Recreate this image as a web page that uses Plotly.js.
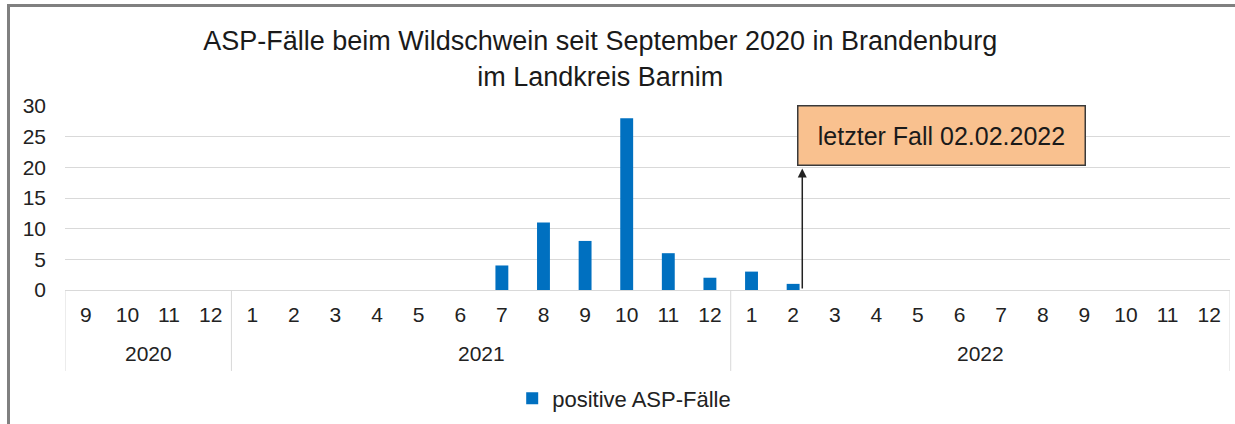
<!DOCTYPE html>
<html>
<head>
<meta charset="utf-8">
<script src="https://cdn.plot.ly/plotly-3.0.1.min.js"></script>
<style>
  html, body { margin: 0; padding: 0; background: #fff; }
  #wrap { position: relative; width: 1235px; height: 424px; overflow: hidden; }
  #chart { width: 1235px; height: 424px; }
  #frame { position: absolute; left: 7px; top: 4px; width: 1300px; height: 500px;
           border-top: 3px solid #808080; border-left: 3px solid #808080; pointer-events: none; }
</style>
</head>
<body>
<div id="wrap">
  <div id="chart"></div>
  <div id="frame"></div>
</div>
<script>
// ---- data ----
const years = ['2020','2020','2020','2020',
  '2021','2021','2021','2021','2021','2021','2021','2021','2021','2021','2021','2021',
  '2022','2022','2022','2022','2022','2022','2022','2022','2022','2022','2022','2022'];
const months = ['9','10','11','12',
  '1','2','3','4','5','6','7','8','9','10','11','12',
  '1','2','3','4','5','6','7','8','9','10','11','12'];
const cases = [0,0,0,0,
  0,0,0,0,0,0,4,11,8,28,6,2,
  3,1,0,0,0,0,0,0,0,0,0,0];
const seriesName = 'positive ASP-Fälle';
const titleText = 'ASP-Fälle beim Wildschwein seit September 2020 in Brandenburg<br>im Landkreis Barnim';
const noteText = 'letzter Fall 02.02.2022';
const lastCase = {year: '2022', month: '2'};

const FONT = '"Liberation Sans", Arial, sans-serif';
const n = years.length;

// unique category keys (year-month), shown with month labels
const keys = years.map((y, i) => y + '-' + months[i]);

// index of the last case category
let lastIdx = 0;
for (let i = 0; i < n; i++) {
  if (years[i] === lastCase.year && months[i] === lastCase.month) lastIdx = i;
}

// year groups -> year labels + dividers
const groups = [];
years.forEach((y, i) => {
  const g = groups[groups.length - 1];
  if (g && g.year === y) g.last = i;
  else groups.push({year: y, first: i, last: i});
});

const DIV_BOTTOM = -0.44;
const YEAR_Y = -0.345;

const shapes = [];
const boundaries = [groups[0].first - 0.5].concat(groups.map(g => g.last + 0.5));
boundaries.forEach(b => {
  shapes.push({
    type: 'line', xref: 'x', yref: 'paper',
    x0: b, x1: b, y0: 0, y1: DIV_BOTTOM,
    line: {color: '#D9D9D9', width: 1}
  });
});

const annotations = groups.map(g => ({
  xref: 'x', yref: 'paper',
  x: (g.first + g.last) / 2, y: YEAR_Y,
  xanchor: 'center', yanchor: 'middle',
  text: g.year, showarrow: false,
  font: {family: FONT, size: 21, color: '#222222'}
}));

annotations.push({
  xref: 'paper', yref: 'paper',
  x: 0.752, y: 0.837,
  xanchor: 'center', yanchor: 'middle',
  text: noteText,
  showarrow: false,
  font: {family: FONT, size: 25, color: '#1a1a1a'},
  bgcolor: '#F9C18F',
  bordercolor: '#3a3a3a', borderwidth: 1.5, borderpad: 0,
  width: 286, height: 58, align: 'center', valign: 'middle'
});
annotations.push({
  xref: 'x', yref: 'y',
  x: lastIdx + 0.22, y: 19.8,
  text: ' ',
  font: {size: 1},
  borderpad: 0,
  showarrow: true,
  arrowhead: 2, arrowsize: 1.2, arrowwidth: 1.5, arrowcolor: '#222222',
  ax: 0, ay: 121,
  standoff: 0, startstandoff: 0
});

const trace = {
  type: 'bar',
  x: keys,
  y: cases,
  name: seriesName,
  width: 0.31,
  marker: {color: '#0070C0'},
  showlegend: true,
  hoverinfo: 'y'
};

const layout = {
  width: 1235, height: 424,
  margin: {l: 65, r: 5, t: 106, b: 134, pad: 0},
  paper_bgcolor: '#ffffff',
  plot_bgcolor: '#ffffff',
  font: {family: FONT, color: '#222222', size: 20},
  title: {
    text: titleText,
    font: {family: FONT, size: 27, color: '#1a1a1a'},
    x: 0.486, xref: 'container', xanchor: 'center',
    y: 0.881, yref: 'container', yanchor: 'top'
  },
  showlegend: true,
  legend: {
    orientation: 'h',
    x: 0.480, xanchor: 'center',
    y: -0.59, yanchor: 'middle',
    font: {family: FONT, size: 22, color: '#222222'},
    itemwidth: 30
  },
  xaxis: {
    type: 'category',
    tickmode: 'array',
    tickvals: keys,
    ticktext: months,
    showgrid: false,
    showline: true, linecolor: '#D9D9D9', linewidth: 1,
    ticks: '',
    ticklabelstandoff: 6,
    tickangle: 0,
    tickfont: {family: FONT, size: 21, color: '#222222'},
    range: [-0.5, n - 0.5],
    fixedrange: true
  },
  yaxis: {
    range: [0, 30],
    dtick: 5,
    showgrid: true, gridcolor: '#D9D9D9', gridwidth: 1,
    zeroline: false,
    showline: false,
    ticks: '',
    ticklabelstandoff: 18,
    tickfont: {family: FONT, size: 21, color: '#222222'},
    fixedrange: true
  },
  shapes: shapes,
  annotations: annotations
};

Plotly.newPlot('chart', [trace], layout, {staticPlot: true, displayModeBar: false});
</script>
</body>
</html>
